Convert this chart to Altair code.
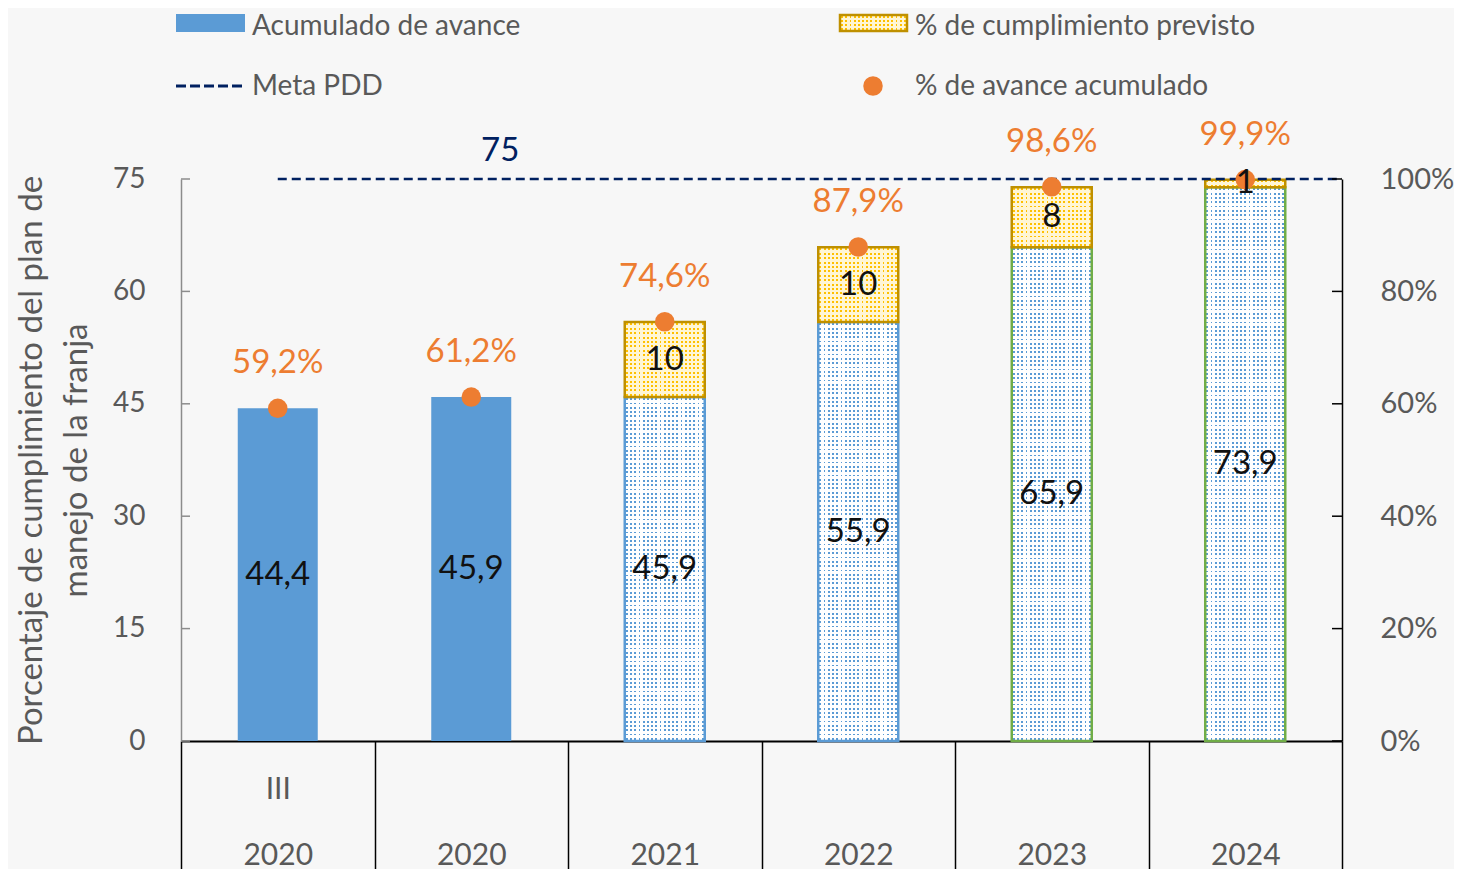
import altair as alt
import pandas as pd

# ---------------- data ----------------
row1_labels = ["III", "", "", "", "", ""]
year_labels = ["2020", "2020", "2021", "2022", "2023", "2024"]
acumulado = [44.4, 45.9, 45.9, 55.9, 65.9, 73.9]
previsto = [0, 0, 10, 10, 8, 1]
avance_pct = [0.592, 0.612, 0.746, 0.879, 0.986, 0.999]
meta_pdd = 75
left_ticks = [0, 15, 30, 45, 60, 75]
right_ticks = [0, 0.2, 0.4, 0.6, 0.8, 1.0]
legend_labels = ["Acumulado de avance", "% de cumplimiento previsto",
                 "Meta PDD", "% de avance acumulado"]
y_title = ["Porcentaje de cumplimiento del plan de", "manejo de la franja"]

keys = [a + "|" + b for a, b in zip(row1_labels, year_labels)]
df = pd.DataFrame({
    "key": keys, "acum": acumulado, "prev": previsto,
    "pct": avance_pct, "i": list(range(len(keys))),
})
df["top"] = df["acum"] + df["prev"]
df["mid"] = df["acum"] / 2
df["pmid"] = df["acum"] + df["prev"] / 2
meta_df = pd.DataFrame({"key": [keys[0]], "lkey": [keys[1]], "meta": [meta_pdd]})
lt_df = pd.DataFrame({"t": left_ticks})
rt_df = pd.DataFrame({"t": right_ticks})
leg_df = pd.DataFrame({"label": legend_labels})

# ---------------- style ----------------
FONT = "Lato"
GRAY = "#595959"
BLUE = "#5B9BD5"
GOLD_DOT = "#FFC000"
GOLD_BG = "#FFF6D5"
GOLD_LINE = "#BF9000"
GREEN = "#70AD47"
ORANGE = "#ED7D31"
NAVY = "#002060"
W, H = 1161, 562
PXU = H / 75.0
PERIOD = 4.3
BAR_W = 80
LBL = 33


def stripes(on, off, n, duty, vertical_cols=True):
    stops = []
    g = (1 - duty) / 2
    for k in range(n):
        a = k / n
        b = (k + g) / n
        c = (k + g + duty) / n
        d = (k + 1) / n
        stops += [alt.GradientStop(color=off, offset=a), alt.GradientStop(color=off, offset=b),
                  alt.GradientStop(color=on, offset=b), alt.GradientStop(color=on, offset=c),
                  alt.GradientStop(color=off, offset=c), alt.GradientStop(color=off, offset=min(d, 1.0))]
    if vertical_cols:
        return alt.Gradient(gradient="linear", stops=stops, x1=0, x2=1, y1=0, y2=0)
    return alt.Gradient(gradient="linear", stops=stops, x1=0, x2=0, y1=0, y2=1)


x_scale = alt.Scale(paddingInner=0, paddingOuter=0)
x_axis = alt.Axis(
    title=None,
    labelExpr="isValid(datum.value) ? split(datum.value, '|') : ''",
    labelLineHeight=66,
    labelFontSize=30, labelColor=GRAY, labelFont=FONT, labelAngle=0,
    labelBaseline="top", labelPadding=-117, labelOverlap=False, labelBound=False,
    tickBand="extent", tickSize=150, tickColor="black", tickWidth=1.5,
    domainColor="black", domainWidth=2, grid=False,
)
x_enc = alt.X("key:N", sort=keys, scale=x_scale, axis=x_axis)

left_scale = alt.Scale(domain=[0, 75], nice=False, zero=True)
left_axis = alt.Axis(
    orient="left", values=left_ticks, ticks=False, grid=False,
    domainColor="#8c8c8c", domainWidth=1.5,
    labelFontSize=28, labelColor=GRAY, labelFont=FONT, labelPadding=36,
    title=y_title, titleFontSize=33, titleColor=GRAY, titleFont=FONT,
    titleFontWeight="normal", titlePadding=19, titleLineHeight=45,
)
right_scale = alt.Scale(domain=[0, 1], nice=False, zero=True)
right_axis = alt.Axis(
    orient="right", values=right_ticks, format="%", ticks=False, grid=False,
    domainColor="black", domainWidth=1.5,
    labelFontSize=29, labelColor=GRAY, labelFont=FONT, labelPadding=38, title=None,
)


def YL(field, axis=True):
    return alt.Y(field, scale=left_scale, axis=left_axis if axis else None)


def YR(field):
    return alt.Y(field, scale=right_scale, axis=right_axis)


base = alt.Chart(df)
layers_left = []

# solid bars (first two)
layers_left.append(
    base.transform_filter("datum.i < 2").mark_bar(size=BAR_W, color=BLUE)
    .encode(x=x_enc, y=YL("acum:Q"))
)

# dotted blue bars
proj = base.transform_filter("datum.i >= 2")
ncols = round(BAR_W / PERIOD)
layers_left.append(proj.mark_bar(size=BAR_W, fill="white", strokeWidth=0).encode(x=x_enc, y=YL("acum:Q")))
layers_left.append(proj.mark_bar(size=BAR_W, fill=stripes(BLUE, "transparent", ncols, 0.42), strokeWidth=0)
                   .encode(x=x_enc, y=YL("acum:Q")))
for k in range(2, len(keys)):
    nrows = max(1, round(acumulado[k] * PXU / PERIOD))
    layers_left.append(
        base.transform_filter(f"datum.i == {k}")
        .mark_bar(size=BAR_W, fill=stripes("transparent", "white", nrows, 0.42, vertical_cols=False), strokeWidth=0)
        .encode(x=x_enc, y=YL("acum:Q"))
    )
layers_left.append(
    base.transform_filter("datum.i >= 2 && datum.i < 4")
    .mark_bar(size=BAR_W, fill="transparent", stroke=BLUE, strokeWidth=2.5)
    .encode(x=x_enc, y=YL("acum:Q"))
)
layers_left.append(
    base.transform_filter("datum.i >= 4")
    .mark_bar(size=BAR_W, fill="transparent", stroke=GREEN, strokeWidth=2.5)
    .encode(x=x_enc, y=YL("acum:Q"))
)

# dotted yellow segments
ysel = base.transform_filter("datum.prev > 0")
layers_left.append(ysel.mark_bar(size=BAR_W, fill=GOLD_BG, strokeWidth=0)
                   .encode(x=x_enc, y=YL("acum:Q"), y2="top:Q"))
layers_left.append(ysel.mark_bar(size=BAR_W, fill=stripes(GOLD_DOT, "transparent", ncols, 0.45), strokeWidth=0)
                   .encode(x=x_enc, y=YL("acum:Q"), y2="top:Q"))
for k in range(len(keys)):
    if previsto[k] <= 0:
        continue
    nrows = max(1, round(previsto[k] * PXU / PERIOD))
    layers_left.append(
        base.transform_filter(f"datum.i == {k}")
        .mark_bar(size=BAR_W, fill=stripes("transparent", GOLD_BG, nrows, 0.45, vertical_cols=False), strokeWidth=0)
        .encode(x=x_enc, y=YL("acum:Q"), y2="top:Q")
    )
layers_left.append(ysel.mark_bar(size=BAR_W, fill="transparent", stroke=GOLD_LINE, strokeWidth=2.5)
                   .encode(x=x_enc, y=YL("acum:Q"), y2="top:Q"))

# Meta PDD line + label
layers_left.append(
    alt.Chart(meta_df).mark_rule(color=NAVY, strokeWidth=2.5, strokeDash=[9, 5])
    .encode(x=x_enc, x2=alt.value(W), y=YL("meta:Q"))
)
layers_left.append(
    alt.Chart(meta_df).mark_text(color=NAVY, fontSize=LBL, font=FONT, dx=29, dy=-28, baseline="middle")
    .encode(x=alt.X("lkey:N", sort=keys, scale=x_scale, axis=x_axis), y=YL("meta:Q"), text="meta:Q")
)

# inward ticks on left axis
layers_left.append(
    alt.Chart(lt_df).mark_rule(color="#8c8c8c", strokeWidth=1.5)
    .encode(y=YL("t:Q"), x=alt.value(0), x2=alt.value(9))
)

# ---------------- legend ----------------
leg = alt.Chart(leg_df)
layers_left.append(leg.transform_filter(alt.datum.label == legend_labels[0])
                   .mark_rect(color=BLUE).encode(x=alt.value(-5), x2=alt.value(64),
                                                 y=alt.value(-165), y2=alt.value(-147)))
sw = leg.transform_filter(alt.datum.label == legend_labels[1])
sw_enc = dict(x=alt.value(659), x2=alt.value(726), y=alt.value(-164), y2=alt.value(-148))
layers_left.append(sw.mark_rect(fill=GOLD_BG).encode(**sw_enc))
layers_left.append(sw.mark_rect(fill=stripes(GOLD_DOT, "transparent", 16, 0.45)).encode(**sw_enc))
layers_left.append(sw.mark_rect(fill=stripes("transparent", GOLD_BG, 4, 0.45, vertical_cols=False)).encode(**sw_enc))
layers_left.append(sw.mark_rect(fill="transparent", stroke=GOLD_LINE, strokeWidth=2.5).encode(**sw_enc))
layers_left.append(leg.transform_filter(alt.datum.label == legend_labels[2])
                   .mark_rule(color=NAVY, strokeWidth=3, strokeDash=[10, 4])
                   .encode(x=alt.value(-5), x2=alt.value(64), y=alt.value(-93)))
layers_left.append(leg.transform_filter(alt.datum.label == legend_labels[3])
                   .mark_point(filled=True, color=ORANGE, size=380, opacity=1)
                   .encode(x=alt.value(692), y=alt.value(-93)))
txt = dict(align="left", baseline="middle", fontSize=28, font=FONT, color=GRAY)
for lab, xx, yy in [(legend_labels[0], 71, -152), (legend_labels[1], 734, -152),
                    (legend_labels[2], 71, -92), (legend_labels[3], 734, -92)]:
    layers_left.append(leg.transform_filter(alt.datum.label == lab).mark_text(**txt)
                       .encode(x=alt.value(xx), y=alt.value(yy), text="label:N"))

left = alt.layer(*layers_left)

# ---------------- right (percent) group ----------------
layers_right = [
    base.mark_point(filled=True, color=ORANGE, size=380, opacity=1)
    .encode(x=x_enc, y=YR("pct:Q")),
    base.transform_calculate(lbl="replace(format(datum.pct, '.1%'), '.', ',')")
    .mark_text(color=ORANGE, fontSize=LBL, font=FONT, dy=-45, baseline="middle")
    .encode(x=x_enc, y=YR("pct:Q"), text="lbl:N"),
    alt.Chart(rt_df).mark_rule(color="black", strokeWidth=1.5)
    .encode(y=YR("t:Q"), x=alt.value(W - 10), x2=alt.value(W)),
]
right = alt.layer(*layers_right)

# ---------------- value labels (drawn on top of the dots) ----------------
labels = alt.layer(
    base.transform_calculate(lbl="replace(format(datum.acum, '.1f'), '.', ',')")
    .mark_text(fontSize=LBL, font=FONT, color="#111111", baseline="middle")
    .encode(x=x_enc, y=YL("mid:Q", axis=False), text="lbl:N"),
    ysel.transform_calculate(lbl="format(datum.prev, 'd')")
    .mark_text(fontSize=LBL, font=FONT, color="#111111", baseline="middle")
    .encode(x=x_enc, y=YL("pmid:Q", axis=False), text="lbl:N"),
)

chart = (
    alt.layer(left, right, labels)
    .resolve_scale(y="independent")
    .properties(
        width=W, height=H,
        autosize=alt.AutoSizeParams(type="none"),
        padding={"left": 173, "top": 171, "right": 112, "bottom": 128},
        background="#f7f7f7",
    )
    .configure_view(stroke=None)
)

chart.save("out.html", embed_options={"renderer": "svg", "actions": False})
